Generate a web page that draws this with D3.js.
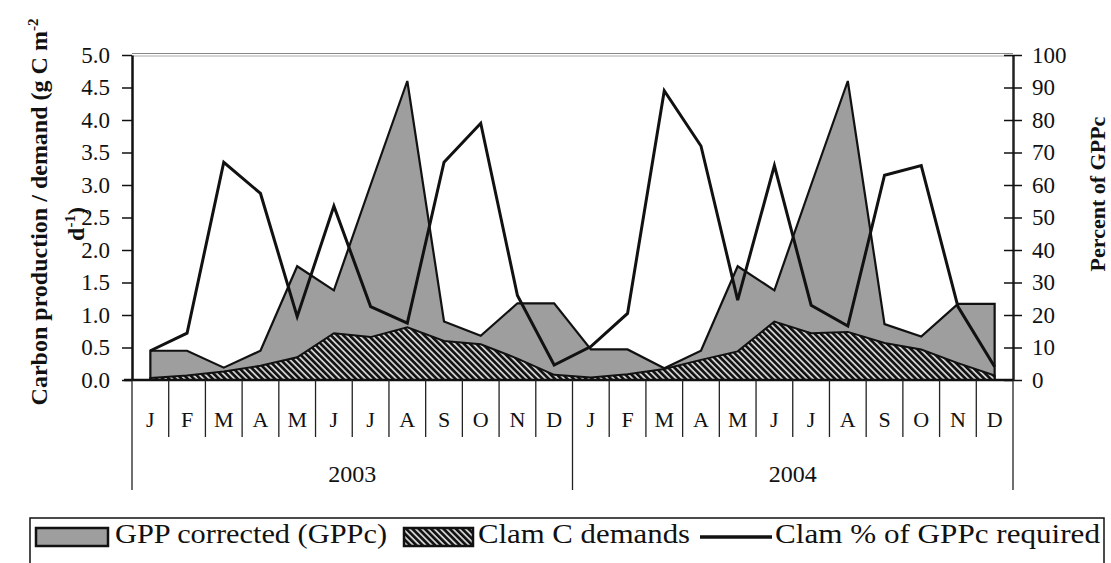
<!DOCTYPE html>
<html lang="en">
<head>
    <meta charset="UTF-8">
    <title>GPP and clam carbon demand</title>
    <script src="https://cdn.jsdelivr.net/npm/d3@7"></script>
    <style>
        body { margin: 0; background: #fff; }
        svg text { font-family: "Times New Roman", "Liberation Serif", Tinos, Times, serif !important; fill: #111; }
    </style>
</head>
<body>
<svg class="chart" width="1111" height="563"></svg>
<script>
    // values
    const months = ['J', 'F', 'M', 'A', 'M', 'J', 'J', 'A', 'S', 'O', 'N', 'D'];
    const years = ['2003', '2004'];
    const gppc = [0.45, 0.45, 0.19, 0.45, 1.75, 1.38, 3.0, 4.6, 0.9, 0.68, 1.18, 1.18,
                  0.47, 0.47, 0.18, 0.45, 1.75, 1.38, 3.0, 4.6, 0.86, 0.67, 1.17, 1.17];
    const clamDemand = [0.03, 0.07, 0.13, 0.22, 0.35, 0.72, 0.66, 0.81, 0.6, 0.55, 0.33, 0.08,
                        0.04, 0.09, 0.17, 0.31, 0.44, 0.9, 0.72, 0.74, 0.57, 0.47, 0.26, 0.07];
    const clamPct = [9, 14.4, 67, 57.4, 19.5, 53.5, 22.6, 17.5, 67, 79, 26, 4.6,
                     10.3, 20.5, 89, 72, 24.6, 66, 23, 16.6, 63, 66, 22.6, 4.1];
    const leftTicks = [0, 0.5, 1, 1.5, 2, 2.5, 3, 3.5, 4, 4.5, 5];
    const rightTicks = [0, 10, 20, 30, 40, 50, 60, 70, 80, 90, 100];

    const plot = {left: 132, right: 1013, top: 55, bottom: 380};
    const serif = '"Times New Roman", "Liberation Serif", Tinos, Times, serif';
    const svg = d3.select('.chart');

    const x = d3.scaleBand().domain(d3.range(24)).range([plot.left, plot.right]);
    const cx = i => x(i) + x.bandwidth() / 2;
    const yL = d3.scaleLinear().domain([0, 5]).range([plot.bottom, plot.top]);
    const yR = d3.scaleLinear().domain([0, 100]).range([plot.bottom, plot.top]);

    // hatch for clam demand
    const pat = svg.append('defs').append('pattern')
        .attr('id', 'hatch')
        .attr('patternUnits', 'userSpaceOnUse')
        .attr('width', 4.4).attr('height', 4.4)
        .attr('patternTransform', 'rotate(-45)');
    pat.append('rect').attr('width', 4.4).attr('height', 4.4).attr('fill', '#cfcfcf');
    pat.append('rect').attr('width', 2.6).attr('height', 4.4).attr('fill', '#111');

    // top frame (faint double line)
    svg.append('line').attr('x1', plot.left).attr('x2', plot.right).attr('y1', 53.5).attr('y2', 53.5)
        .attr('stroke', '#888').attr('stroke-width', 1);
    svg.append('line').attr('x1', plot.left).attr('x2', plot.right).attr('y1', 56).attr('y2', 56)
        .attr('stroke', '#aaa').attr('stroke-width', 1);

    const area = d3.area().x((d, i) => cx(i)).y0(plot.bottom).y1(d => yL(d));

    svg.append('path').datum(gppc)
        .attr('d', area)
        .attr('fill', '#9e9e9e').attr('stroke', '#111').attr('stroke-width', 2.2);

    svg.append('path').datum(clamDemand)
        .attr('d', area)
        .attr('fill', 'url(#hatch)').attr('stroke', '#111').attr('stroke-width', 2);

    svg.append('path').datum(clamPct)
        .attr('d', d3.line().x((d, i) => cx(i)).y(d => yR(d)))
        .attr('fill', 'none').attr('stroke', '#111').attr('stroke-width', 3);

    /**
     * axes
     */
    const left = svg.append('g')
        .attr('transform', 'translate(' + plot.left + ',0)')
        .call(d3.axisLeft(yL).tickValues(leftTicks).tickFormat(d3.format('.1f'))
            .tickSize(10).tickSizeOuter(0).tickPadding(12))
        .attr('font-family', serif);
    left.select('.domain').attr('stroke', '#111').attr('stroke-width', 2.5);
    left.selectAll('.tick line').attr('stroke', '#111').attr('stroke-width', 1.5);
    left.selectAll('text').style('font-size', '23px').attr('fill', '#111');

    const right = svg.append('g')
        .attr('transform', 'translate(' + plot.right + ',0)')
        .call(d3.axisRight(yR).tickValues(rightTicks)
            .tickSize(9).tickSizeOuter(0).tickPadding(10))
        .attr('font-family', serif);
    right.select('.domain').attr('stroke', '#222').attr('stroke-width', 2.5);
    right.selectAll('.tick line').attr('x1', -9).attr('stroke', '#111').attr('stroke-width', 1.5);
    right.selectAll('text').style('font-size', '23px').attr('fill', '#111');

    // category axis with month / year levels
    svg.append('line').attr('x1', 124).attr('x2', plot.right).attr('y1', plot.bottom).attr('y2', plot.bottom)
        .attr('stroke', '#111').attr('stroke-width', 2.5);

    const bounds = d3.range(25);
    svg.append('g').selectAll('line').data(bounds).enter().append('line')
        .attr('x1', k => k < 24 ? x(k) : plot.right)
        .attr('x2', k => k < 24 ? x(k) : plot.right)
        .attr('y1', plot.bottom)
        .attr('y2', k => k % 12 === 0 ? 490 : 437)
        .attr('stroke', '#222').attr('stroke-width', 1.3);

    svg.append('g').selectAll('text').data(d3.range(24)).enter().append('text')
        .attr('x', i => cx(i))
        .attr('y', 427)
        .attr('text-anchor', 'middle')
        .style('font-size', '22px')
        .text(i => months[i % 12]);

    svg.append('g').selectAll('text').data(years).enter().append('text')
        .attr('x', (d, j) => (x(j * 12) + x(j * 12 + 11) + x.bandwidth()) / 2)
        .attr('y', 482)
        .attr('text-anchor', 'middle')
        .style('font-size', '24px')
        .text(d => d);

    // axis titles
    const t1 = svg.append('text')
        .attr('transform', 'translate(47,212) rotate(-90)')
        .attr('text-anchor', 'middle')
        .style('font-size', '24px').style('font-weight', 'bold');
    t1.append('tspan').text('Carbon production / demand (g C m');
    t1.append('tspan').attr('dy', -9).style('font-size', '15px').text('-2');

    const t2 = svg.append('text')
        .attr('transform', 'translate(84,224) rotate(-90)')
        .attr('text-anchor', 'middle')
        .style('font-size', '24px').style('font-weight', 'bold');
    t2.append('tspan').text('d');
    t2.append('tspan').attr('dy', -9).style('font-size', '15px').text('-1');
    t2.append('tspan').attr('dy', 9).text(')');

    svg.append('text')
        .attr('transform', 'translate(1105,194) rotate(-90)')
        .attr('text-anchor', 'middle')
        .style('font-size', '22px').style('font-weight', 'bold')
        .text('Percent of GPPc');

    /**
     * legend
     */
    const lg = svg.append('g');
    lg.append('rect').attr('x', 30).attr('y', 518).attr('width', 1074).attr('height', 60)
        .attr('fill', 'none').attr('stroke', '#111').attr('stroke-width', 1.5);

    lg.append('rect').attr('x', 36).attr('y', 528).attr('width', 72).attr('height', 18)
        .attr('fill', '#9e9e9e').attr('stroke', '#111').attr('stroke-width', 2.5);
    lg.append('text').attr('x', 115).attr('y', 543).style('font-size', '27px')
        .attr('textLength', 272).attr('lengthAdjust', 'spacingAndGlyphs')
        .text('GPP corrected (GPPc)');

    lg.append('rect').attr('x', 404).attr('y', 528).attr('width', 69).attr('height', 18)
        .attr('fill', 'url(#hatch)').attr('stroke', '#111').attr('stroke-width', 2.5);
    lg.append('text').attr('x', 478).attr('y', 543).style('font-size', '27px')
        .attr('textLength', 212).attr('lengthAdjust', 'spacingAndGlyphs')
        .text('Clam C demands');

    lg.append('line').attr('x1', 700).attr('x2', 772).attr('y1', 537).attr('y2', 537)
        .attr('stroke', '#111').attr('stroke-width', 3.5);
    lg.append('text').attr('x', 775).attr('y', 543).style('font-size', '27px')
        .attr('textLength', 325).attr('lengthAdjust', 'spacingAndGlyphs')
        .text('Clam % of GPPc required');
</script>
</body>
</html>
